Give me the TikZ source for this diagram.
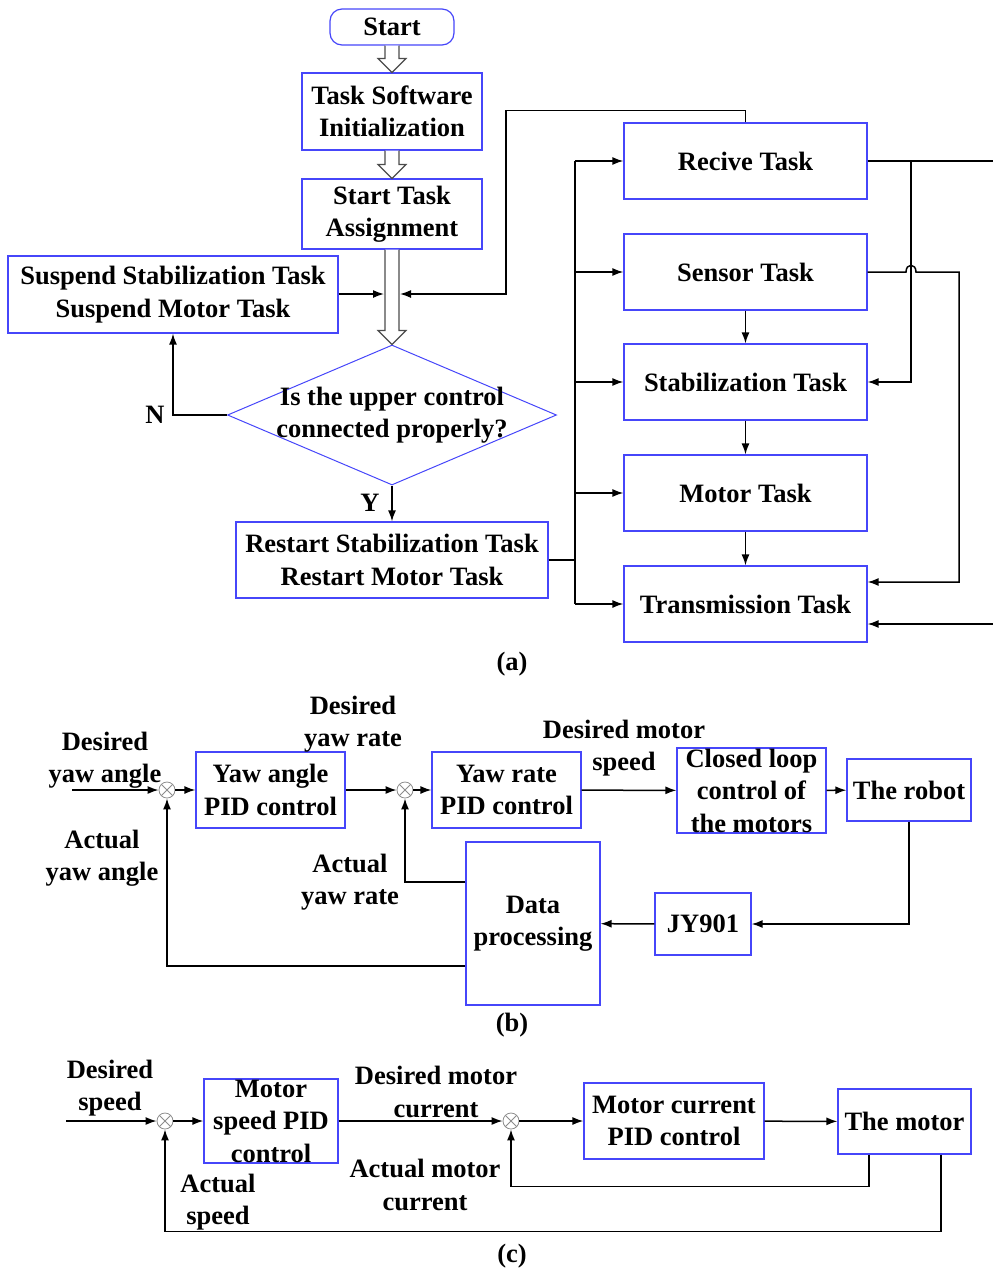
\documentclass[tikz,border=0pt]{standalone}
\usepackage{fontspec}
\setmainfont{Liberation Serif}
\usetikzlibrary{arrows.meta,calc,shapes.geometric}
\definecolor{boxblue}{RGB}{70,70,250}

% hollow flow arrow between two stacked nodes
\newcommand\fatarrow[2]{%
  \filldraw[fatarrow] let \p1=(#1.south), \p2=(#2.north) in
    (\x1-7pt,\y1) -- (\x1-7pt,\y2+14pt) -- (\x1-14pt,\y2+14pt) -- (\x1,\y2)
    -- (\x1+14pt,\y2+14pt) -- (\x1+7pt,\y2+14pt) -- (\x1+7pt,\y1);}

\begin{document}
\begin{tikzpicture}[x=1pt,y=-1pt]
  \tikzset{
    >={Latex[length=11pt,width=8pt]},
    every node/.style={font=\bfseries\fontsize{26.5}{32.5}\selectfont, align=center},
    box/.style={draw=boxblue, line width=1.2pt, fill=white, inner sep=0pt},
    task/.style={box, minimum width=243pt, minimum height=76pt},
    line/.style={line width=1.5pt},
    fatarrow/.style={draw=black!70, line width=1.2pt, fill=white},
    sum/.style={circle, draw=black!45, line width=0.8pt, minimum size=16pt, inner sep=0pt,
      path picture={\draw[black!45, line width=0.8pt]
        (path picture bounding box.north west) -- (path picture bounding box.south east)
        (path picture bounding box.north east) -- (path picture bounding box.south west);}},
    decision/.style={diamond, draw=boxblue, line width=1pt, inner sep=0pt,
      minimum width=329pt, minimum height=140pt}
  }
  \useasboundingbox (0,0) rectangle (993,1270);

  % (a) task flow
  \node[box, rounded corners=12pt, minimum width=124pt, minimum height=36pt] (start) at (392,27) {Start};
  \node[box, minimum width=180pt, minimum height=77pt] (init) at (392,111.5) {Task Software\\Initialization};
  \node[box, minimum width=180pt, minimum height=70pt] (assign) at (392,214) {Start Task\\Assignment};
  \node[box, minimum width=330pt, minimum height=77pt] (suspend) at (173,294.5) {Suspend Stabilization Task\\Suspend Motor Task};
  \node[decision, label={[align=center]center:Is the upper control\\connected properly?}] (check) at (392,415) {};
  \node[box, minimum width=312pt, minimum height=76pt] (restart) at (392,560) {Restart Stabilization Task\\Restart Motor Task};
  \node (nlabel) at (155,415) {N};
  \node (ylabel) at (370,503) {Y};

  \node[task] (recv) at (745.5,161) {Recive Task};
  \node[task] (sensor) at (745.5,272) {Sensor Task};
  \node[task] (stab) at (745.5,382) {Stabilization Task};
  \node[task] (motor) at (745.5,493) {Motor Task};
  \node[task] (trans) at (745.5,604) {Transmission Task};

  \fatarrow{start}{init}
  \fatarrow{init}{assign}
  \fatarrow{assign}{check}

  \coordinate (joinL) at (384,294);
  \coordinate (joinR) at (400,294);
  \draw[line,->] (suspend.east |- joinL) -- (joinL);
  \draw[line,->] (recv.north) -- ++(0,-12) -| ([xshift=106pt]joinR) -- (joinR);
  \draw[line,->] (check.west) -| (suspend.south);
  \draw[line,->] (check.south) -- (restart.north);

  \coordinate (bus) at (575,560);
  \draw[line] (restart.east) -- (bus);
  \draw[line] (recv.west -| bus) -- (trans.west -| bus);
  \foreach \t in {recv,sensor,stab,motor,trans}
    \draw[line,->] (\t.west -| bus) -- (\t.west);
  \draw[line,->] (sensor) -- (stab);
  \draw[line,->] (stab) -- (motor);
  \draw[line,->] (motor) -- (trans);

  \coordinate (tapR) at (911,161);
  \coordinate (outA) at (993,161);
  \coordinate (inB) at (993,624);
  \draw[line] (recv.east) -- (outA);
  \draw[line,->] (tapR) |- (stab.east);
  \draw[line,->] (sensor.east) -- (906,272) .. controls (906,263) and (916,263) .. (916,272)
    -- (959,272) |- ([yshift=22pt]trans.east);
  \draw[line,->] (inB) -- ([yshift=-20pt]trans.east);
  \node (capa) at (512,664) {(a)};

  % (b) yaw control
  \node[sum] (sumA) at (167,790) {};
  \node[box, minimum width=149pt, minimum height=76pt] (pidA) at (270.5,790) {Yaw angle\\PID control};
  \node[sum] (sumB) at (405,790) {};
  \node[box, minimum width=149pt, minimum height=76pt] (pidB) at (506.5,790) {Yaw rate\\PID control};
  \node[box, minimum width=149pt, minimum height=85pt] (closed) at (751.5,790.5) {Closed loop\\control of\\the motors};
  \node[box, minimum width=124pt, minimum height=62pt] (robot) at (909,790) {The robot};
  \node[box, minimum width=96pt, minimum height=62pt] (jy) at (703,924) {JY901};
  \node[box, minimum width=134pt, minimum height=163pt] (proc) at (533,923.5) {Data\\processing};

  \coordinate (inA) at (72,790);
  \draw[line,->] (inA) -- (sumA);
  \draw[line,->] (sumA) -- (pidA);
  \draw[line,->] (pidA) -- (sumB);
  \draw[line,->] (sumB) -- (pidB);
  \draw[line,->] (pidB) -- (closed);
  \draw[line,->] (closed) -- (robot);
  \draw[line,->] (robot.south) |- (jy.east);
  \draw[line,->] (jy) -- (proc);
  \draw[line,->] ([yshift=41.5pt]proc.west) -| (sumB.south);
  \draw[line,->] ([yshift=-42.5pt]proc.west) -| (sumA.south);

  \node (dyawA) at (105,760) {Desired\\yaw angle};
  \node (ayawA) at (102,858) {Actual\\yaw angle};
  \node (dyawB) at (353,724) {Desired\\yaw rate};
  \node (ayawB) at (350,882) {Actual\\yaw rate};
  \node (dspeedB) at (624,748) {Desired motor\\speed};
  \node (capb) at (512,1025) {(b)};

  % (c) motor control
  \node[sum] (sumC) at (165,1121) {};
  \node[box, minimum width=134pt, minimum height=84pt] (pidC) at (271,1121) {Motor\\speed PID\\control};
  \node[sum] (sumD) at (511,1121) {};
  \node[box, minimum width=180pt, minimum height=76pt] (pidD) at (674,1121) {Motor current\\PID control};
  \node[box, minimum width=133pt, minimum height=65pt] (plant) at (904.5,1121.5) {The motor};

  \coordinate (inC) at (66,1121);
  \draw[line,->] (inC) -- (sumC);
  \draw[line,->] (sumC) -- (pidC);
  \draw[line,->] (pidC) -- (sumD);
  \draw[line,->] (sumD) -- (pidD);
  \draw[line,->] (pidD) -- (plant);
  \draw[line,->] ([xshift=-35.5pt]plant.south) -- ++(0,32) -| (sumD.south);
  \draw[line,->] ([xshift=36.5pt]plant.south) -- ++(0,77) -| (sumC.south);

  \node (dspeed) at (110,1088) {Desired\\speed};
  \node (dcur) at (436,1092) {Desired motor\\current};
  \node (acur) at (425,1185) {Actual motor\\current};
  \node (aspeed) at (218,1202) {Actual\\speed};
  \node (capc) at (512,1256) {(c)};
\end{tikzpicture}
\end{document}
